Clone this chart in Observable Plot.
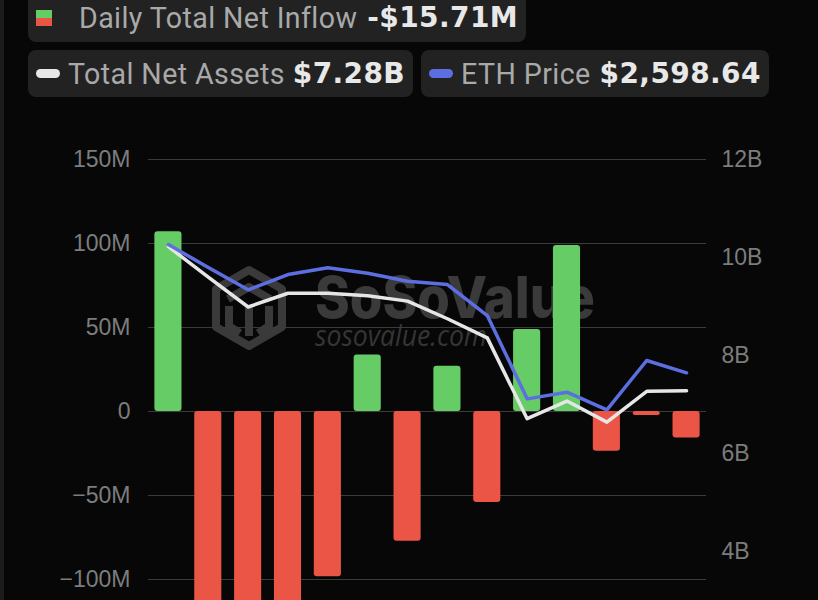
<!DOCTYPE html>
<html>
<head>
<meta charset="utf-8">
<script src="https://cdn.jsdelivr.net/npm/d3@7"></script>
<script src="https://cdn.jsdelivr.net/npm/@observablehq/plot@0.6"></script>
<style>
  html, body { margin:0; padding:0; width:818px; height:600px; overflow:hidden; background:#070707; }
  #strip { position:absolute; left:0; top:0; width:4px; height:600px; background:#1b1b1b; }
  .box { position:absolute; display:flex; align-items:center; background:#222222; border-radius:8px; box-sizing:border-box; padding:0 8px; white-space:nowrap; }
  .lab { font-family: Roboto, sans-serif; font-size:28.6px; color:#a9a9a9; letter-spacing:0.4px; }
  .val { font-family: "DejaVu Sans", sans-serif; font-weight:bold; font-size:28px; color:#e8e8e8; letter-spacing:0.4px; }
  .sq { width:16px; height:16px; background:linear-gradient(#66cc66 0 50%, #eb5546 50% 100%); }
  .pill { width:24px; height:9px; border-radius:5px; }
  #wm { position:absolute; left:0; top:0; z-index:0; }
  #chart { position:absolute; left:0; top:120px; z-index:1; }
</style>
</head>
<body>
<div id="strip"></div>
<svg id="wm" width="818" height="600">
  <g fill="none" stroke="#3a3a3a" stroke-width="8" stroke-linejoin="round">
    <path d="M249,270 L282,289 L282,327 L249,346 L216,327 L216,289 Z"/>
    <path d="M228,299 L249,287 L270,299 M249,308 L249,336 M229,306 L229,326 L240,333 M269,306 L269,326 L258,333"/>
  </g>
  <text x="315" y="318" font-family="Inter, sans-serif" font-weight="800" font-size="58" fill="#3a3a3a" textLength="280" lengthAdjust="spacingAndGlyphs">SoSoValue</text>
  <text x="315" y="346" font-family="'Open Sans', sans-serif" font-style="italic" font-size="29" fill="#353535" textLength="172" lengthAdjust="spacingAndGlyphs">sosovalue.com</text>
</svg>
<div id="legend"></div>
<div id="chart"></div>
<script>
// ---- data ----
const dates = ["2024-07-23","2024-07-24","2024-07-25","2024-07-26","2024-07-29","2024-07-30","2024-07-31","2024-08-01","2024-08-02","2024-08-05","2024-08-06","2024-08-07","2024-08-08","2024-08-09"];
// Daily total net inflow, millions USD
const netInflow = [107.0, -133.0, -152.0, -163.0, -98.3, 33.7, -77.2, 27.0, -54.2, 48.8, 98.8, -23.6, -2.4, -15.71];
// Total net assets, billions USD
const totalNetAssets = [10.22, 9.60, 8.99, 9.27, 9.27, 9.22, 9.11, 8.75, 8.36, 6.71, 7.07, 6.64, 7.27, 7.28];
// ETH price, USD
const ethPrice = [3488, 3329, 3174, 3280, 3327, 3289, 3234, 3211, 2996, 2418, 2464, 2342, 2684, 2598.64];
const leftTicks = [-100, -50, 0, 50, 100, 150];   // M
const rightTicks = [4, 6, 8, 10, 12];             // B

// ---- legend ----
const last = netInflow.length - 1;
const fmtM = v => (v < 0 ? "-" : "") + "$" + Math.abs(v).toFixed(2) + "M";
const legend = document.getElementById("legend");
legend.innerHTML = `
  <div class="box" style="left:28px;top:-7px;height:49px;">
    <span class="sq"></span><span class="lab" style="margin-left:27px">Daily Total Net Inflow</span><span class="val" style="margin-left:10px">${fmtM(netInflow[last])}</span>
  </div>
  <div style="position:absolute;left:28px;top:50px;display:flex;gap:8px;">
    <div class="box" style="position:relative;height:47px;">
      <span class="pill" style="background:#e8e8e8"></span><span class="lab" style="margin-left:8px">Total Net Assets</span><span class="val" style="margin-left:8px">$${totalNetAssets[last].toFixed(2)}B</span>
    </div>
    <div class="box" style="position:relative;height:47px;">
      <span class="pill" style="background:#5d6fe0"></span><span class="lab" style="margin-left:8px">ETH Price</span><span class="val" style="margin-left:9px">$${d3.format(",.2f")(ethPrice[last])}</span>
    </div>
  </div>`;

// ---- chart ----
const assetsToY = d3.scaleLinear([0, 12], [-200, 150]);   // right axis (B) -> left units (M)
const ethToY = d3.scaleLinear([0, 4078], [-200, 150]);    // hidden ETH axis -> left units
const rows = dates.map((d, i) => ({
  date: d, flow: netInflow[i],
  assets: assetsToY(totalNetAssets[i]),
  eth: ethToY(ethPrice[i])
}));
const fmtLeft = v => v === 0 ? "0" : (v < 0 ? "\u2212" : "") + Math.abs(v) + "M";

const chart = Plot.plot({
  width: 818, height: 657,
  marginTop: 39, marginBottom: 30, marginLeft: 148, marginRight: 112,
  style: { background: "transparent", fontFamily: "'Liberation Sans', Arial, sans-serif", fontSize: "23px", color: "#7c7c7c" },
  x: { type: "band", domain: dates, paddingInner: 0.32, paddingOuter: 0.16, round: false, axis: null },
  y: { domain: [-200, 150], axis: null },
  marks: [
    Plot.ruleY(leftTicks, { stroke: "#3b3b3b", strokeWidth: 1.2 }),
    Plot.axisY(leftTicks, { anchor: "left", tickSize: 0, tickPadding: 18, tickFormat: fmtLeft, fill: "#7c7c7c" }),
    Plot.axisY(rightTicks.map(assetsToY), { anchor: "right", tickSize: 0, tickPadding: 15, tickFormat: v => Math.round(assetsToY.invert(v)) + "B", fill: "#7c7c7c" }),
    Plot.barY(rows, { filter: d => d.flow >= 0, x: "date", y: "flow", fill: "#66cc66", rx: 3 }),
    Plot.barY(rows, { filter: d => d.flow < 0, x: "date", y: "flow", fill: "#eb5546", rx: 3 }),
    Plot.line(rows, { x: "date", y: "assets", stroke: "#e6e6e6", strokeWidth: 3.5 }),
    Plot.line(rows, { x: "date", y: "eth", stroke: "#5d6fe0", strokeWidth: 3.5 })
  ]
});
document.getElementById("chart").appendChild(chart);
</script>
</body>
</html>
